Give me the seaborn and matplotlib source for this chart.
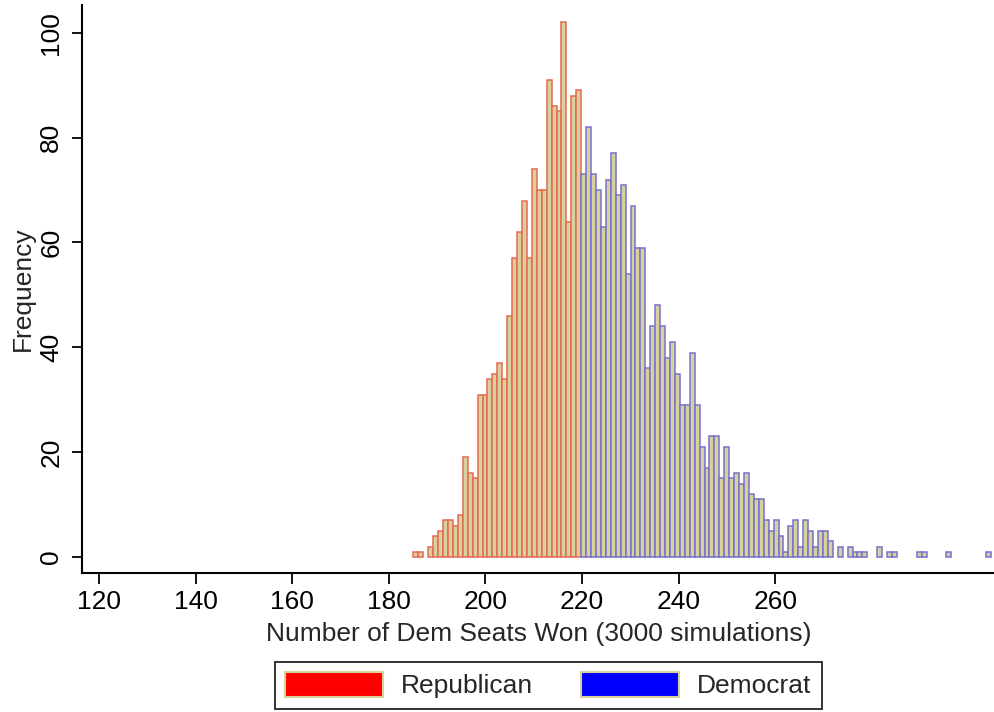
import numpy as np
import pandas as pd
import seaborn as sns
import matplotlib.pyplot as plt
from matplotlib.patches import Patch

# Frequency per bin of Dem seats won (3000 simulations), first bin ~186 seats
counts = [1, 1, 0, 2, 4, 5, 7, 7, 6, 8,
          19, 16, 15, 31, 31, 34, 35, 37, 34, 46,
          57, 62, 68, 57, 74, 70, 70, 91, 86, 85,
          102, 64, 88, 89, 73, 82, 73, 70, 63, 72,
          77, 69, 71, 54, 67, 59, 59, 36, 44, 48,
          44, 38, 41, 35, 29, 29, 39, 29, 21, 17,
          23, 23, 15, 21, 15, 16, 14, 16, 12, 11,
          11, 7, 5, 7, 4, 1, 6, 7, 2, 7,
          5, 2, 5, 5, 3, 0, 2, 0, 2, 1,
          1, 1, 0, 0, 2, 0, 1, 1, 0, 0,
          0, 0, 1, 1, 0, 0, 0, 0, 1, 0,
          0, 0, 0, 0, 0, 0, 1]
first_dem_bin = 34
bin_lo, bin_hi = 185.1, 304.6
x_ticks = [120, 140, 160, 180, 200, 220, 240, 260]
y_ticks = [0, 20, 40, 60, 80, 100]
parties = ["Republican", "Democrat"]
party_colors = {"Republican": "red", "Democrat": "blue"}
edge_colors = {"Republican": "#e66a52", "Democrat": "#7672cc"}
tan = "#d8d19e"

edges = np.linspace(bin_lo, bin_hi, len(counts) + 1)
centers = (edges[:-1] + edges[1:]) / 2
df = pd.DataFrame({
    "seats": centers,
    "count": counts,
    "party": ["Republican" if i < first_dem_bin else "Democrat" for i in range(len(counts))],
})

sns.set_style("ticks")
plt.rcParams["font.family"] = ["Liberation Sans", "DejaVu Sans"]

fig = plt.figure(figsize=(9.95, 7.12), dpi=100)
ax = fig.add_axes([82 / 995, 1 - 573 / 712, 1 - 82 / 995, (573 - 5) / 712])

for party in parties:
    sub = df[df["party"] == party]
    b = edges[:first_dem_bin + 1] if party == "Republican" else edges[first_dem_bin:]
    sns.histplot(data=sub, x="seats", weights="count", bins=[float(v) for v in b], color=tan,
                 edgecolor=edge_colors[party], linewidth=1.1, alpha=1, ax=ax)

# empty bins draw nothing in the original
for p in ax.patches:
    if p.get_height() == 0:
        p.set_visible(False)

ax.set_xlim(116.48, 305.5)
ax.set_ylim(-3.05, 105.3)
ax.set_xticks(x_ticks)
ax.set_yticks(y_ticks)
ax.tick_params(axis="both", labelsize=19, width=1.3, colors="black")
ax.tick_params(axis="x", length=8, pad=4)
ax.tick_params(axis="y", length=7.5, pad=6, labelrotation=90)
for lab in ax.get_yticklabels():
    lab.set_va("center")
ax.set_xlabel("Number of Dem Seats Won (3000 simulations)", fontsize=19, labelpad=6)
ax.set_ylabel("Frequency", fontsize=19, labelpad=3)
sns.despine(ax=ax)
for s in ["left", "bottom"]:
    ax.spines[s].set_linewidth(1.5)
    ax.spines[s].set_color("black")

handles = [Patch(facecolor=party_colors[p], edgecolor=tan, linewidth=1.5) for p in parties]
leg = fig.legend(handles, parties, loc="center", bbox_to_anchor=(0.551, 0.0375), ncol=2,
                 frameon=True, fancybox=False, edgecolor="black", fontsize=19,
                 handlelength=3.7, handleheight=1.05, handletextpad=0.7,
                 columnspacing=1.8, borderpad=0.4)
leg.get_frame().set_linewidth(1.4)

fig.savefig("out.png", dpi=100, facecolor="white")
